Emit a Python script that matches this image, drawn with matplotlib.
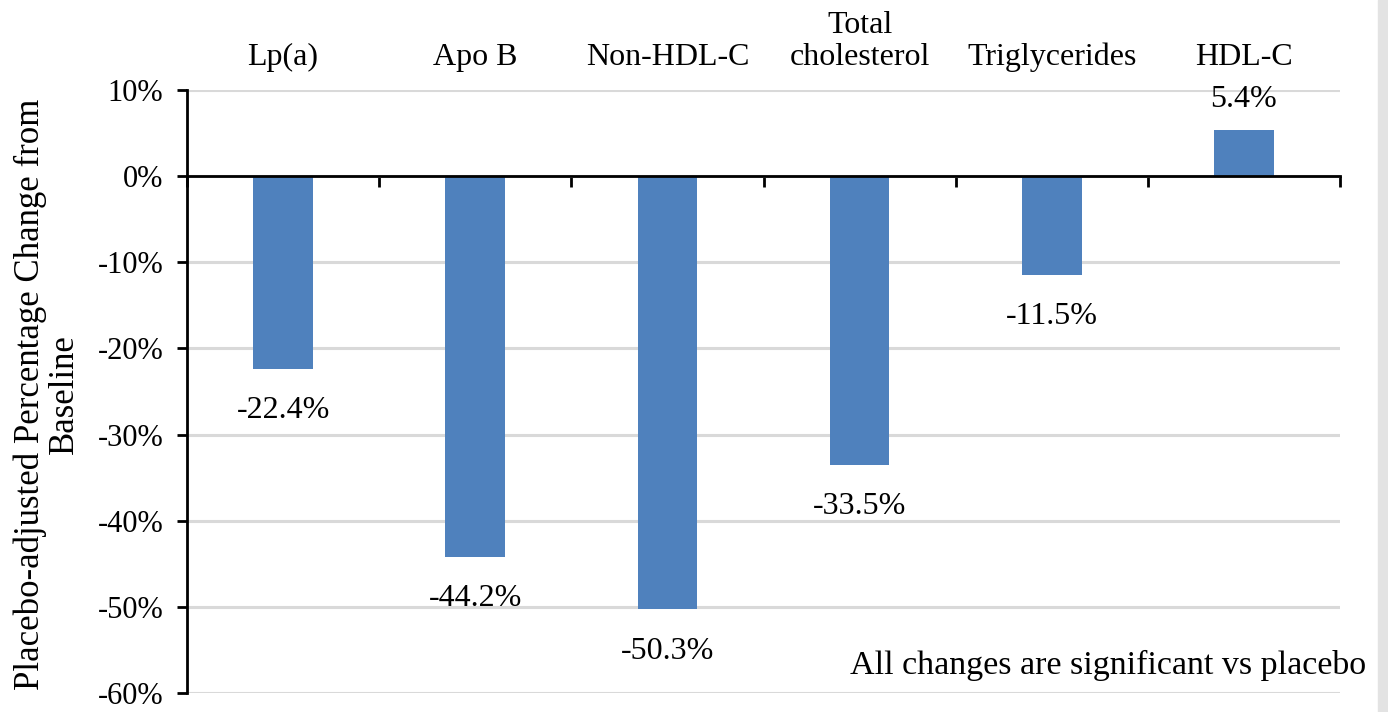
import matplotlib
matplotlib.use('Agg')
import matplotlib.pyplot as plt
import matplotlib.patches as mpatches
import matplotlib.transforms as mtransforms
import numpy as np

plt.rcParams.update({
    'font.family': ['Liberation Serif', 'DejaVu Serif'],
    'font.size': 23,
})

# lipid endpoints and placebo-adjusted change (%)
categories = ['Lp(a)', 'Apo B', 'Non-HDL-C', 'Total\ncholesterol', 'Triglycerides', 'HDL-C']
changes = [-22.4, -44.2, -50.3, -33.5, -11.5, 5.4]
yticks = [10, 0, -10, -20, -30, -40, -50, -60]

bar_color = '#4F81BD'
grid_color = '#D9D9D9'

W, H = 1388, 712
fig = plt.figure(figsize=(W / 100, H / 100), dpi=100)
ax = fig.add_axes([187 / W, 1 - 693 / H, (1340 - 187) / W, (693 - 90) / H])

x = np.arange(len(categories))
ax.bar(x, changes, width=0.31, color=bar_color, zorder=2)

ax.set_xlim(-0.5, len(categories) - 0.5)
ax.set_ylim(-60, 10)

# horizontal gridlines
ax.set_yticks(yticks)
ax.set_yticklabels([f'{v}%' for v in yticks])
ax.yaxis.grid(True, color=grid_color, lw=2.2, zorder=0)
ax.set_axisbelow(True)

for s in ['top', 'right']:
    ax.spines[s].set_visible(False)
ax.spines['left'].set_linewidth(2)
ax.spines['bottom'].set_position(('data', 0))
ax.spines['bottom'].set_linewidth(2)
ax.spines['bottom'].set_zorder(3)

# boundary ticks on the zero line
ax.set_xticks(np.arange(-0.5, len(categories), 1.0))
ax.set_xticklabels([])
ax.tick_params(axis='x', direction='out', length=8, width=2)
ax.tick_params(axis='y', direction='out', length=7, width=2, pad=10, labelsize=22)

# category names above the plot
trans = mtransforms.blended_transform_factory(ax.transData, fig.transFigure)
for xi, name in zip(x, categories):
    ax.text(xi, 1 - 65 / H, name, transform=trans, ha='center', va='baseline',
            fontsize=23, linespacing=1.15)

# value labels
for xi, v in zip(x, changes):
    off = 22 if v > 0 else -30
    ax.annotate(f'{v}%', (xi, v), xytext=(0, off), textcoords='offset points',
                ha='center', va='center', fontsize=23)

fig.text(47 / W, 1 - 394 / H, 'Placebo-adjusted Percentage Change from\nBaseline',
         rotation=90, ha='center', va='center', multialignment='center',
         fontsize=25, linespacing=1.05)

ax.text((1366 - 187) / (1340 - 187), 0.046, 'All changes are significant vs placebo',
        transform=ax.transAxes, ha='right', va='center', fontsize=24.5)

# light border on the right edge
fig.patches.append(mpatches.Rectangle((1378 / W, 0), 10 / W, 1, transform=fig.transFigure,
                                      color='#E3E3E3', zorder=0))

fig.savefig('out.png', dpi=100)
